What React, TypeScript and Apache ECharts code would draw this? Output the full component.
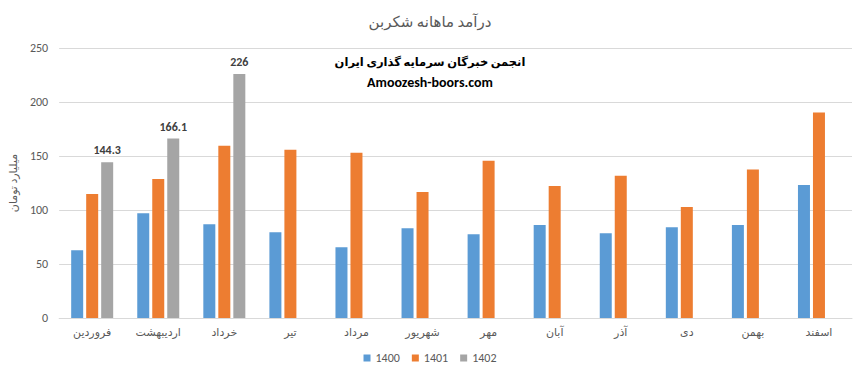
import React, { useEffect, useRef } from "react";
import * as echarts from "echarts";

const months = ["فروردین", "اردیبهشت", "خرداد", "تیر", "مرداد", "شهریور", "مهر", "آبان", "آذر", "دی", "بهمن", "اسفند"];
const s1400 = [62.7, 97.1, 86.9, 79.4, 65.5, 83.1, 77.6, 86, 78.5, 84, 86, 123.2];
const s1401 = [114.8, 128.8, 159.5, 155.7, 153, 116.7, 145.5, 122.3, 131.6, 102.7, 137.6, 190.2];
const s1402: (number | null)[] = [144.3, 166.1, 226, null, null, null, null, null, null, null, null, null];
const seriesNames = ["1400", "1401", "1402"];
const colors = ["#5B9BD5", "#ED7D31", "#A5A5A5"];

const FONT = 'Calibri, "Liberation Sans", "DejaVu Sans", sans-serif';

export default function App() {
  const ref = useRef<HTMLDivElement>(null);
  useEffect(() => {
    if (!ref.current) return;
    const chart = echarts.init(ref.current, null, { renderer: "svg" });
    const mk = (name: string, data: (number | null)[], color: string, label: boolean) => ({
      name,
      type: "bar",
      data,
      barWidth: 12,
      barGap: "25%",
      itemStyle: { color },
      label: label
        ? {
            show: true,
            position: "top",
            distance: 6,
            fontFamily: FONT,
            fontWeight: "bold",
            fontSize: 12,
            color: "#404040",
          }
        : { show: false },
    });
    chart.setOption({
      animation: false,
      textStyle: { fontFamily: FONT },
      title: {
        text: "درآمد ماهانه شکربن",
        left: "center",
        top: 9,
        textStyle: { fontFamily: FONT, fontSize: 15, fontWeight: "normal", color: "#595959" },
      },
      graphic: [
        {
          type: "text",
          left: "center",
          top: 56,
          style: {
            text: "انجمن خبرگان سرمایه گذاری ایران",
            font: `bold 11.5px ${FONT}`,
            fill: "#000",
          },
        },
        {
          type: "text",
          left: "center",
          top: 75,
          style: {
            text: "Amoozesh-boors.com",
            font: `bold 14px ${FONT}`,
            fill: "#000",
          },
        },
      ],
      legend: {
        bottom: 7,
        left: "center",
        itemWidth: 7,
        itemHeight: 7,
        itemGap: 12,
        icon: "rect",
        textStyle: { fontFamily: FONT, fontSize: 12, color: "#595959" },
        data: seriesNames,
      },
      grid: { left: 53, right: 8, top: 48, bottom: 58 },
      xAxis: {
        type: "category",
        data: months,
        axisLine: { lineStyle: { color: "#D9D9D9" } },
        axisTick: { show: false },
        axisLabel: { color: "#595959", fontSize: 11, margin: 9, fontFamily: FONT, interval: 0 },
      },
      yAxis: {
        type: "value",
        min: 0,
        max: 250,
        interval: 50,
        name: "میلیارد تومان",
        nameLocation: "middle",
        nameGap: 40,
        nameRotate: 90,
        nameTextStyle: { color: "#595959", fontSize: 11, fontFamily: FONT },
        axisLine: { show: false },
        axisTick: { show: false },
        axisLabel: { color: "#595959", fontSize: 12, margin: 11, fontFamily: FONT },
        splitLine: { lineStyle: { color: "#D9D9D9" } },
      },
      series: [
        mk(seriesNames[0], s1400, colors[0], false),
        mk(seriesNames[1], s1401, colors[1], false),
        mk(seriesNames[2], s1402, colors[2], true),
      ],
    });
    return () => chart.dispose();
  }, []);
  return <div ref={ref} style={{ width: 860, height: 376, position: "absolute", left: 0, top: 0 }} />;
}
